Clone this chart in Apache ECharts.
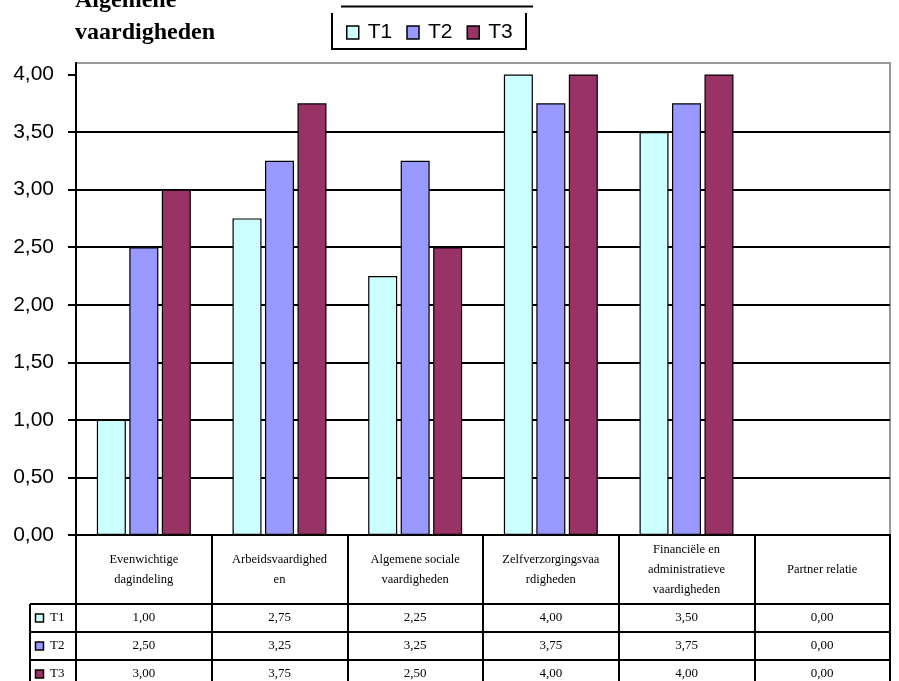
<!DOCTYPE html>
<html>
<head>
<meta charset="utf-8">
<script src="https://cdn.jsdelivr.net/npm/echarts@6/dist/echarts.min.js"></script>
<style>html,body{margin:0;padding:0;background:#fff;}#chart{width:899px;height:681px;}</style>
</head>
<body>
<div id="chart"></div>
<script>
const titleText = 'Algemene\nvaardigheden';
const categories = ['Evenwichtige\ndagindeling', 'Arbeidsvaardighed\nen', 'Algemene sociale\nvaardigheden', 'Zelfverzorgingsvaa\nrdigheden', 'Financiële en\nadministratieve\nvaardigheden', 'Partner relatie'];
const seriesNames = ['T1', 'T2', 'T3'];
const T1 = [1.00, 2.75, 2.25, 4.00, 3.50, 0.00];
const T2 = [2.50, 3.25, 3.25, 3.75, 3.75, 0.00];
const T3 = [3.00, 3.75, 2.50, 4.00, 4.00, 0.00];
const colors = ['#CCFFFF', '#9999FF', '#993366'];
const yTicks = [0, 0.5, 1, 1.5, 2, 2.5, 3, 3.5, 4];

const seriesData = [T1, T2, T3];
const fmt = v => v.toFixed(2).replace('.', ',');

// layout constants (pixels)
const G = {left: 76, right: 9, top: 63, bottom: 146};
const catRowH = 69, rowH = 28;
const axisY = 681 - G.bottom;
const tableLeft = 30;

const chart = echarts.init(document.getElementById('chart'));

const xAxes = [{
  type: 'category', data: categories, position: 'bottom', gridIndex: 0,
  axisLine: {show: true, lineStyle: {color: '#000', width: 2}},
  axisTick: {show: true, length: 160, lineStyle: {color: '#000', width: 2}},
  axisLabel: {interval: 0, margin: catRowH / 2, verticalAlign: 'middle', fontFamily: 'Liberation Serif', fontSize: 12.5, lineHeight: 20, color: '#000'},
  splitLine: {show: false}
}];
seriesData.forEach((arr, i) => {
  xAxes.push({
    type: 'category', data: categories, position: 'bottom', gridIndex: 0,
    offset: catRowH + rowH * i,
    axisLine: {show: true, lineStyle: {color: '#000', width: 2}},
    axisTick: {show: false},
    axisLabel: {interval: 0, margin: rowH / 2, verticalAlign: 'middle', fontFamily: 'Liberation Serif', fontSize: 13, color: '#000',
      formatter: (v, idx) => fmt(arr[idx])},
    splitLine: {show: false}
  });
});

const graphics = [
  {type: 'polyline', shape: {points: [[332, 13], [332, 49], [526, 49], [526, 13]]}, style: {stroke: '#000', lineWidth: 2, fill: null}},
  {type: 'line', shape: {x1: 341, y1: 6.5, x2: 533, y2: 6.5}, style: {stroke: '#000', lineWidth: 2}},
  {type: 'line', shape: {x1: tableLeft, y1: axisY + catRowH, x2: tableLeft, y2: 700}, style: {stroke: '#000', lineWidth: 2}}
];
seriesNames.forEach((name, i) => {
  const yTop = axisY + catRowH + rowH * i;
  graphics.push({type: 'line', shape: {x1: tableLeft, y1: yTop, x2: G.left, y2: yTop}, style: {stroke: '#000', lineWidth: 2}});
  graphics.push({type: 'rect', shape: {x: 35.5, y: yTop + rowH / 2 - 4, width: 8, height: 8}, style: {fill: colors[i], stroke: '#000', lineWidth: 1.5}});
  graphics.push({type: 'text', x: 50, y: yTop + rowH / 2, style: {text: name, fill: '#000', font: '13px "Liberation Serif"', verticalAlign: 'middle', align: 'left'}});
});

const option = {
  animation: false,
  backgroundColor: '#fff',
  title: {
    text: titleText, left: 70, top: -20,
    textStyle: {fontFamily: 'Liberation Serif', fontWeight: 'bold', fontSize: 24, lineHeight: 32, color: '#000'}
  },
  legend: {
    data: seriesNames, left: 341, top: 17, itemWidth: 12, itemHeight: 13, itemGap: 14,
    icon: 'rect',
    textStyle: {fontFamily: 'Liberation Sans', fontSize: 21, color: '#000', padding: [0, 0, 0, 4]},
    itemStyle: {borderColor: '#000', borderWidth: 1.5}
  },
  grid: {
    left: G.left, right: G.right, top: G.top, bottom: G.bottom,
    show: true, borderColor: '#999', borderWidth: 2, backgroundColor: 'transparent',
    outerBoundsMode: 'none'
  },
  xAxis: xAxes,
  yAxis: {
    type: 'value', min: 0, max: 4.1, interval: 0.5,
    axisLine: {show: true, lineStyle: {color: '#000', width: 2}},
    axisTick: {show: true, length: 8, customValues: yTicks, lineStyle: {color: '#000', width: 2}},
    axisLabel: {customValues: yTicks, margin: 22, fontFamily: 'Liberation Sans', fontSize: 21, color: '#000', formatter: v => fmt(v)},
    splitLine: {show: true, showMinLine: false, showMaxLine: false, lineStyle: {color: '#000', width: 2}}
  },
  series: seriesNames.map((name, i) => ({
    name: name, type: 'bar', data: seriesData[i], xAxisIndex: 0,
    barWidth: 29, barGap: '12%',
    itemStyle: {color: colors[i], borderColor: '#000', borderWidth: 1.2}
  })),
  graphic: graphics
};
chart.setOption(option);
</script>
</body>
</html>
